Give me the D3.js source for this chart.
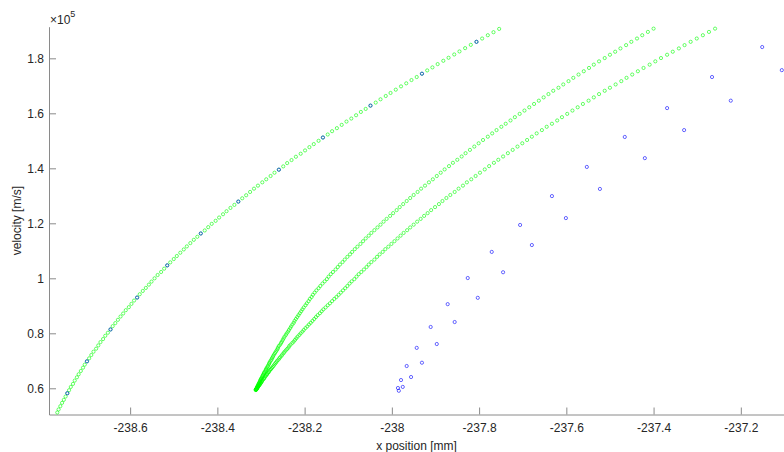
<!DOCTYPE html>
<html>
<head>
<meta charset="utf-8">
<script src="https://cdn.jsdelivr.net/npm/d3@7"></script>
<style>
  body { margin: 0; background: #fff; }
  svg { display: block; font-family: "Liberation Sans", Arial, Helvetica, sans-serif; }
</style>
</head>
<body>
<svg id="chart" width="784" height="452"></svg>
<script>
// velocities are in units of 1e5 m/s (the axis shows x10^5), positions in mm

// left green branch
const leftX = [-238.767,-238.764,-238.760,-238.756,-238.752,-238.748,-238.744,-238.740,-238.736,-238.731,
  -238.727,-238.722,-238.718,-238.713,-238.708,-238.704,-238.699,-238.694,-238.689,-238.684,
  -238.678,-238.673,-238.668,-238.662,-238.657,-238.651,-238.645,-238.640,-238.634,-238.628,
  -238.622,-238.616,-238.610,-238.603,-238.597,-238.591,-238.584,-238.578,-238.571,-238.564,
  -238.557,-238.551,-238.544,-238.537,-238.529,-238.522,-238.515,-238.508,-238.500,-238.493,
  -238.485,-238.477,-238.470,-238.462,-238.454,-238.446,-238.438,-238.429,-238.421,-238.413,
  -238.404,-238.396,-238.387,-238.379,-238.370,-238.361,-238.352,-238.343,-238.334,-238.325,
  -238.316,-238.307,-238.297,-238.288,-238.278,-238.269,-238.259,-238.249,-238.240,-238.230,
  -238.220,-238.209,-238.199,-238.189,-238.179,-238.168,-238.158,-238.147,-238.137,-238.126,
  -238.115,-238.104,-238.093,-238.082,-238.071,-238.060,-238.049,-238.037,-238.026,-238.014,
  -238.003,-237.991,-237.979,-237.967,-237.955,-237.943,-237.931,-237.919,-237.907,-237.895,
  -237.882,-237.870,-237.857,-237.845,-237.832,-237.819,-237.806,-237.793,-237.780,-237.767,-237.754];
const leftV = [0.512,0.523,0.535,0.547,0.558,0.570,0.582,0.593,0.605,0.616,
  0.628,0.640,0.651,0.663,0.675,0.686,0.698,0.709,0.721,0.733,
  0.744,0.756,0.768,0.779,0.791,0.802,0.814,0.826,0.837,0.849,
  0.861,0.872,0.884,0.895,0.907,0.919,0.930,0.942,0.954,0.965,
  0.977,0.988,1.000,1.012,1.023,1.035,1.047,1.058,1.070,1.081,
  1.093,1.105,1.116,1.128,1.140,1.151,1.163,1.174,1.186,1.198,
  1.209,1.221,1.233,1.244,1.256,1.267,1.279,1.291,1.302,1.314,
  1.326,1.337,1.349,1.360,1.372,1.384,1.395,1.407,1.419,1.430,
  1.442,1.453,1.465,1.477,1.488,1.500,1.512,1.523,1.535,1.546,
  1.558,1.570,1.581,1.593,1.605,1.616,1.628,1.639,1.651,1.663,
  1.674,1.686,1.698,1.709,1.721,1.732,1.744,1.756,1.767,1.779,
  1.791,1.802,1.814,1.825,1.837,1.849,1.860,1.872,1.884,1.895,1.907];

// folded green branch: shared velocities, two x positions (upper-left and lower-right arm)
const foldV = [0.594,0.595,0.596,0.597,0.599,0.600,0.602,0.604,0.605,0.607,
  0.609,0.611,0.613,0.616,0.618,0.620,0.623,0.625,0.628,0.631,
  0.634,0.636,0.639,0.643,0.646,0.649,0.652,0.656,0.659,0.663,
  0.667,0.670,0.674,0.678,0.682,0.687,0.691,0.695,0.700,0.704,
  0.709,0.713,0.718,0.723,0.728,0.733,0.738,0.743,0.748,0.754,
  0.759,0.765,0.770,0.776,0.782,0.788,0.794,0.800,0.806,0.812,
  0.819,0.825,0.832,0.838,0.845,0.852,0.859,0.866,0.873,0.880,
  0.887,0.894,0.902,0.909,0.917,0.925,0.932,0.940,0.948,0.956,
  0.964,0.972,0.981,0.989,0.997,1.006,1.015,1.023,1.032,1.041,
  1.050,1.059,1.068,1.078,1.087,1.096,1.106,1.115,1.125,1.135,
  1.145,1.155,1.165,1.175,1.185,1.195,1.206,1.216,1.227,1.237,
  1.248,1.259,1.270,1.281,1.292,1.303,1.314,1.326,1.337,1.349,
  1.360,1.372,1.384,1.396,1.408,1.420,1.431,1.443,1.455,1.467,
  1.479,1.491,1.503,1.515,1.527,1.539,1.551,1.562,1.574,1.586,
  1.598,1.610,1.622,1.634,1.646,1.658,1.670,1.682,1.693,1.705,
  1.717,1.729,1.741,1.753,1.765,1.777,1.789,1.801,1.813,1.824,
  1.836,1.848,1.860,1.872,1.884,1.896,1.908];
const foldXUpper = [-238.312,-238.312,-238.311,-238.311,-238.310,-238.310,-238.309,-238.309,-238.308,-238.308,
  -238.307,-238.307,-238.306,-238.305,-238.305,-238.304,-238.303,-238.302,-238.302,-238.301,
  -238.300,-238.299,-238.298,-238.297,-238.296,-238.295,-238.294,-238.293,-238.292,-238.290,
  -238.289,-238.288,-238.287,-238.285,-238.284,-238.282,-238.281,-238.280,-238.278,-238.276,
  -238.275,-238.273,-238.272,-238.270,-238.268,-238.266,-238.264,-238.262,-238.261,-238.259,
  -238.256,-238.254,-238.252,-238.250,-238.248,-238.246,-238.243,-238.241,-238.238,-238.236,
  -238.233,-238.231,-238.228,-238.225,-238.223,-238.220,-238.217,-238.214,-238.211,-238.208,
  -238.205,-238.202,-238.198,-238.195,-238.191,-238.188,-238.184,-238.181,-238.177,-238.173,
  -238.168,-238.164,-238.159,-238.154,-238.149,-238.145,-238.140,-238.135,-238.129,-238.124,
  -238.119,-238.113,-238.108,-238.102,-238.096,-238.091,-238.085,-238.079,-238.072,-238.066,
  -238.060,-238.053,-238.047,-238.040,-238.033,-238.026,-238.019,-238.012,-238.004,-237.997,
  -237.989,-237.982,-237.974,-237.966,-237.958,-237.950,-237.941,-237.933,-237.924,-237.915,
  -237.906,-237.897,-237.888,-237.879,-237.869,-237.860,-237.850,-237.840,-237.831,-237.821,
  -237.811,-237.801,-237.791,-237.780,-237.770,-237.760,-237.749,-237.739,-237.728,-237.718,
  -237.707,-237.696,-237.685,-237.674,-237.663,-237.652,-237.641,-237.630,-237.618,-237.607,
  -237.595,-237.584,-237.572,-237.560,-237.548,-237.537,-237.525,-237.512,-237.500,-237.488,
  -237.476,-237.463,-237.451,-237.438,-237.426,-237.413,-237.400];
const foldXLower = [-238.312,-238.311,-238.311,-238.310,-238.310,-238.309,-238.308,-238.308,-238.307,-238.306,
  -238.305,-238.304,-238.303,-238.302,-238.301,-238.300,-238.299,-238.298,-238.297,-238.296,
  -238.294,-238.293,-238.292,-238.290,-238.289,-238.287,-238.286,-238.284,-238.282,-238.281,
  -238.279,-238.277,-238.275,-238.273,-238.271,-238.269,-238.267,-238.265,-238.263,-238.260,
  -238.258,-238.256,-238.253,-238.251,-238.248,-238.246,-238.243,-238.240,-238.237,-238.235,
  -238.232,-238.228,-238.225,-238.222,-238.219,-238.216,-238.212,-238.209,-238.205,-238.202,
  -238.198,-238.194,-238.190,-238.186,-238.182,-238.178,-238.174,-238.170,-238.165,-238.161,
  -238.157,-238.152,-238.147,-238.142,-238.137,-238.132,-238.127,-238.122,-238.117,-238.112,
  -238.107,-238.102,-238.097,-238.092,-238.086,-238.081,-238.076,-238.070,-238.064,-238.058,
  -238.053,-238.047,-238.040,-238.034,-238.028,-238.021,-238.015,-238.008,-238.001,-237.994,
  -237.987,-237.980,-237.973,-237.965,-237.958,-237.950,-237.942,-237.934,-237.926,-237.918,
  -237.910,-237.901,-237.892,-237.884,-237.875,-237.866,-237.856,-237.847,-237.837,-237.828,
  -237.818,-237.808,-237.798,-237.787,-237.777,-237.766,-237.756,-237.745,-237.734,-237.723,
  -237.712,-237.701,-237.690,-237.679,-237.668,-237.656,-237.645,-237.633,-237.621,-237.610,
  -237.598,-237.586,-237.574,-237.562,-237.549,-237.537,-237.525,-237.512,-237.500,-237.487,
  -237.474,-237.462,-237.449,-237.436,-237.423,-237.409,-237.396,-237.383,-237.369,-237.356,
  -237.342,-237.329,-237.315,-237.301,-237.287,-237.273,-237.259];

// blue samples
const blueX = [-238.744,-238.699,-238.645,-238.584,-238.515,-238.438,-238.352,-238.259,-238.158,-238.049,-237.931,-237.806,
  -237.151,-237.266,-237.369,-237.466,-237.553,-237.633,-237.706,-237.771,-237.826,-237.872,-237.911,-237.943,-237.966,-237.979,-237.986,
  -237.106,-237.223,-237.330,-237.420,-237.523,-237.601,-237.679,-237.745,-237.803,-237.856,-237.897,-237.931,-237.956,-237.975,-237.984];
const blueV = [0.582,0.698,0.814,0.930,1.047,1.163,1.279,1.395,1.512,1.628,1.744,1.860,
  1.841,1.732,1.619,1.514,1.405,1.299,1.194,1.096,1.001,0.906,0.823,0.747,0.681,0.630,0.601,
  1.757,1.646,1.539,1.437,1.325,1.219,1.121,1.022,0.929,0.841,0.761,0.693,0.641,0.605,0.591];

const xTicks = [-238.6, -238.4, -238.2, -238, -237.8, -237.6, -237.4, -237.2];
const yTicks = [0.6, 0.8, 1, 1.2, 1.4, 1.6, 1.8];

const svg = d3.select("#chart");
const plotLeft = 49, plotRight = 784, plotTop = 26.7, plotBottom = 414.5;

const x = d3.scaleLinear().domain([-238.786, -237.101]).range([plotLeft, plotRight]);
const y = d3.scaleLinear().domain([0.5047, 1.915]).range([plotBottom, plotTop]);

const textColor = "#262626";
const axisColor = "#8a8a8a";

// axes
const xAxis = svg.append("g")
    .attr("transform", `translate(0,${plotBottom})`)
    .call(d3.axisBottom(x).tickValues(xTicks).tickSizeInner(-7).tickSizeOuter(0)
        .tickPadding(9).tickFormat(d => String(+d.toFixed(1))));
const yAxis = svg.append("g")
    .attr("transform", `translate(${plotLeft},0)`)
    .call(d3.axisLeft(y).tickValues(yTicks).tickSizeInner(-7).tickSizeOuter(0)
        .tickPadding(5).tickFormat(d => String(d)));

[xAxis, yAxis].forEach(g => {
    g.select(".domain").attr("stroke", axisColor);
    g.selectAll(".tick line").attr("stroke", axisColor);
    g.selectAll(".tick text").attr("fill", textColor).attr("font-size", 12)
        .attr("font-family", "Liberation Sans, Arial, sans-serif");
});

// axis labels
svg.append("text")
    .attr("x", (plotLeft + plotRight) / 2).attr("y", 450)
    .attr("text-anchor", "middle").attr("fill", textColor).attr("font-size", 12)
    .text("x position [mm]");
svg.append("text")
    .attr("transform", `translate(21,${(plotTop + plotBottom) / 2}) rotate(-90)`)
    .attr("text-anchor", "middle").attr("fill", textColor).attr("font-size", 12)
    .text("velocity [m/s]");

// exponent
const expo = svg.append("text").attr("x", 50).attr("y", 24).attr("fill", textColor).attr("font-size", 12);
expo.append("tspan").text("\u00d710");
expo.append("tspan").attr("dy", -7).attr("font-size", 9).text("5");

// markers
const plot = svg.append("g");
const r = 1.6;

function drawSeries(xs, vs, color) {
    plot.append("g").selectAll("circle")
        .data(d3.range(xs.length))
        .join("circle")
        .attr("cx", i => x(xs[i]))
        .attr("cy", i => y(vs[i]))
        .attr("r", r)
        .attr("fill", "none")
        .attr("stroke", color)
        .attr("stroke-width", 0.6);
}

drawSeries(leftX, leftV, "#00ff00");
drawSeries(foldXUpper, foldV, "#00ff00");
drawSeries(foldXLower, foldV, "#00ff00");
drawSeries(blueX, blueV, "#0000ff");
</script>
</body>
</html>
